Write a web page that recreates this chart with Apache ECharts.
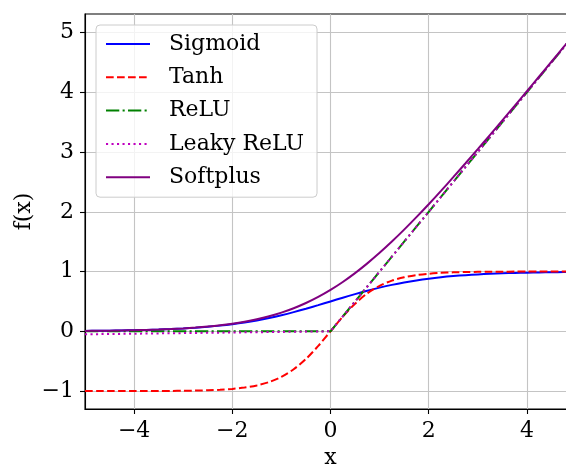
<!DOCTYPE html>
<html>
<head>
<meta charset="utf-8">
<script src="https://cdn.jsdelivr.net/npm/echarts@6/dist/echarts.min.js"></script>
<style>
  html, body { margin: 0; padding: 0; background: #fff; }
  #chart { width: 566px; height: 467px; }
</style>
</head>
<body>
<div id="chart"></div>
<script>
// Sample positions along x
const xs = [-5,-4.75,-4.5,-4.25,-4,-3.75,-3.5,-3.25,-3,-2.75,-2.5,-2.25,-2,-1.75,-1.5,-1.25,-1,-0.75,-0.5,-0.25,0,
            0.25,0.5,0.75,1,1.25,1.5,1.75,2,2.25,2.5,2.75,3,3.25,3.5,3.75,4,4.25,4.5,4.75,5];

const sigmoid = [0.0067,0.0086,0.0110,0.0141,0.0180,0.0230,0.0293,0.0373,0.0474,0.0601,0.0759,0.0953,0.1192,0.1480,0.1824,0.2227,0.2689,0.3208,0.3775,0.4378,0.5,
                 0.5622,0.6225,0.6792,0.7311,0.7773,0.8176,0.8520,0.8808,0.9047,0.9241,0.9399,0.9526,0.9627,0.9707,0.9770,0.9820,0.9859,0.9890,0.9914,0.9933];

const tanh = [-0.9999,-0.9999,-0.9998,-0.9996,-0.9993,-0.9989,-0.9982,-0.9970,-0.9951,-0.9919,-0.9866,-0.9780,-0.9640,-0.9414,-0.9051,-0.8483,-0.7616,-0.6351,-0.4621,-0.2449,0,
              0.2449,0.4621,0.6351,0.7616,0.8483,0.9051,0.9414,0.9640,0.9780,0.9866,0.9919,0.9951,0.9970,0.9982,0.9989,0.9993,0.9996,0.9998,0.9999,0.9999];

const relu = [0,0,0,0,0,0,0,0,0,0,0,0,0,0,0,0,0,0,0,0,0,
              0.25,0.5,0.75,1,1.25,1.5,1.75,2,2.25,2.5,2.75,3,3.25,3.5,3.75,4,4.25,4.5,4.75,5];

const leakyRelu = [-0.05,-0.0475,-0.045,-0.0425,-0.04,-0.0375,-0.035,-0.0325,-0.03,-0.0275,-0.025,-0.0225,-0.02,-0.0175,-0.015,-0.0125,-0.01,-0.0075,-0.005,-0.0025,0,
                   0.25,0.5,0.75,1,1.25,1.5,1.75,2,2.25,2.5,2.75,3,3.25,3.5,3.75,4,4.25,4.5,4.75,5];

const softplus = [0.0067,0.0086,0.0110,0.0142,0.0181,0.0233,0.0298,0.0380,0.0486,0.0620,0.0789,0.1002,0.1269,0.1602,0.2014,0.2519,0.3133,0.3869,0.4741,0.5760,0.6931,
                  0.8260,0.9741,1.1369,1.3133,1.5019,1.7014,1.9102,2.1269,2.3502,2.5789,2.8120,3.0486,3.2880,3.5298,3.7733,4.0181,4.2642,4.5110,4.7586,5.0067];

const xTicks = [-4, -2, 0, 2, 4];
const yTicks = [-1, 0, 1, 2, 3, 4, 5];

const FONT = '"DejaVu Serif", serif';
const pairs = ys => xs.map((x, i) => [x, ys[i]]);
const minus = v => String(v).replace('-', '\u2212');

const seriesDefs = [
  { name: 'Sigmoid',    data: sigmoid,   color: '#0000ff', type: 'solid',               smooth: 0.3 },
  { name: 'Tanh',       data: tanh,      color: '#ff0000', type: [7.7, 3.3],            smooth: 0.3 },
  { name: 'ReLU',       data: relu,      color: '#008000', type: [13.3, 3.3, 2.1, 3.3], smooth: false },
  { name: 'Leaky ReLU', data: leakyRelu, color: '#bf00bf', type: [2.1, 3.4],            smooth: false },
  { name: 'Softplus',   data: softplus,  color: '#800080', type: 'solid',               smooth: 0.3 }
];

const chart = echarts.init(document.getElementById('chart'), null, { renderer: 'canvas' });

const axisCommon = {
  type: 'value',
  axisLine: { show: true, onZero: false, lineStyle: { color: '#000', width: 1.1 } },
  axisTick: { show: true, inside: false, length: 5, lineStyle: { color: '#000', width: 1.1 } },
  splitLine: { show: true, lineStyle: { color: '#c4c4c4', width: 1.1 } },
  nameLocation: 'middle',
  nameTextStyle: { fontFamily: FONT, fontSize: 22, color: '#000' }
};

chart.setOption({
  animation: false,
  backgroundColor: '#fff',
  grid: {
    left: 85, top: 14, right: -10, bottom: 58,
    outerBoundsMode: 'none',
    containLabel: false,
    show: true, borderColor: '#000', borderWidth: 1.1, backgroundColor: 'transparent'
  },
  xAxis: Object.assign({}, axisCommon, {
    min: -5, max: 5,
    name: 'x', nameGap: 36,
    axisTick: Object.assign({}, axisCommon.axisTick, { customValues: xTicks }),
    axisLabel: { customValues: xTicks, margin: 11, fontFamily: FONT, fontSize: 22, color: '#000', formatter: minus }
  }),
  yAxis: Object.assign({}, axisCommon, {
    min: -1.3, max: 5.31,
    name: 'f(x)', nameGap: 50, nameRotate: 90, nameMoveOverlap: false,
    axisTick: Object.assign({}, axisCommon.axisTick, { customValues: yTicks }),
    axisLabel: { customValues: yTicks, margin: 11, fontFamily: FONT, fontSize: 22, color: '#000', formatter: minus }
  }),
  legend: {
    orient: 'vertical',
    left: 96, top: 25,
    padding: [8, 13, 9, 9],
    itemWidth: 44, itemHeight: 14, itemGap: 11.3,
    backgroundColor: 'rgba(255,255,255,0.8)',
    borderColor: '#cccccc', borderWidth: 1, borderRadius: 4,
    itemStyle: { opacity: 0 },
    textStyle: { fontFamily: FONT, fontSize: 22, color: '#000', lineHeight: 22, padding: [0, 0, 0, 14] },
    data: seriesDefs.map(s => s.name)
  },
  series: seriesDefs.map(s => ({
    name: s.name,
    type: 'line',
    data: pairs(s.data),
    showSymbol: false,
    symbol: 'none',
    smooth: s.smooth,
    clip: true,
    color: s.color,
    lineStyle: { color: s.color, width: 2, type: s.type }
  }))
});
</script>
</body>
</html>
